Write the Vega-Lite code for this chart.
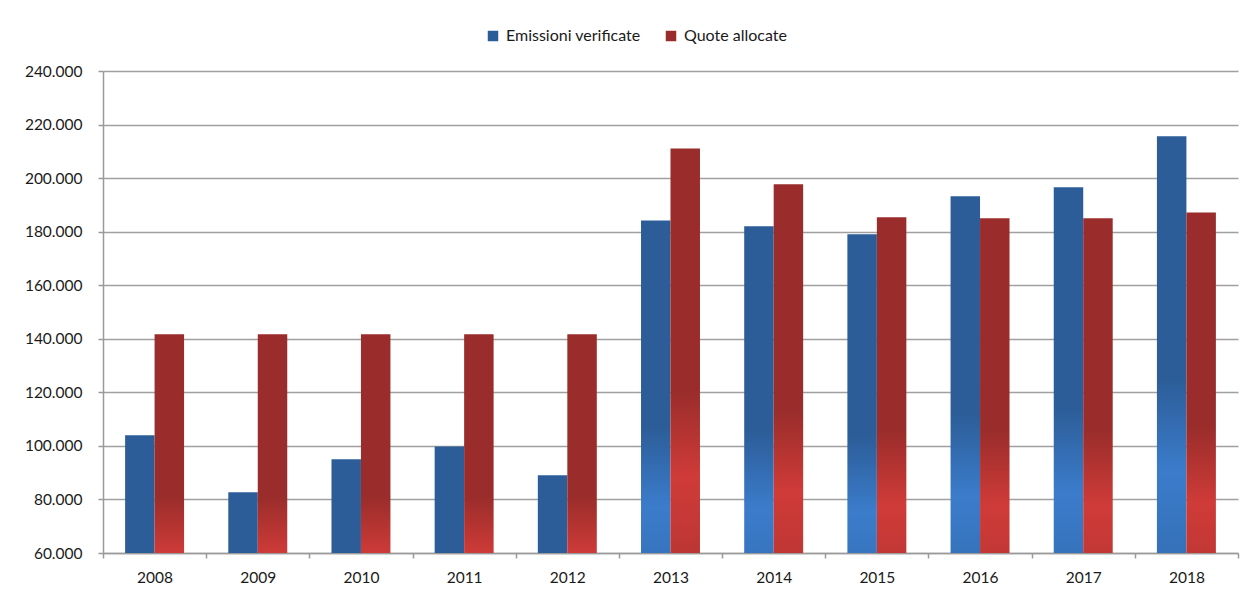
{
  "$schema": "https://vega.github.io/schema/vega-lite/v6.json",
  "autosize": {"type": "none"},
  "padding": {"left": 103, "top": 71, "right": 10, "bottom": 39},
  "width": 1135,
  "height": 482,
  "background": "white",
  "config": {
    "locale": {"number": {"decimal": ",", "thousands": ".", "grouping": [3], "currency": ["€", ""]}},
    "font": "Lato",
    "view": {"stroke": null},
    "axis": {
      "title": null,
      "labelFont": "Lato",
      "labelFontSize": 15.5,
      "labelColor": "#1a1a1a",
      "domainColor": "#9a9a9a",
      "domainWidth": 1.5,
      "tickColor": "#9a9a9a",
      "tickWidth": 1.5,
      "gridColor": "#a0a0a0",
      "gridWidth": 1.5
    }
  },
  "data": {
    "values": [
      {"anno": "2008", "serie": "Emissioni verificate", "valore": 104000},
      {"anno": "2008", "serie": "Quote allocate", "valore": 141700},
      {"anno": "2009", "serie": "Emissioni verificate", "valore": 82700},
      {"anno": "2009", "serie": "Quote allocate", "valore": 141700},
      {"anno": "2010", "serie": "Emissioni verificate", "valore": 95000},
      {"anno": "2010", "serie": "Quote allocate", "valore": 141700},
      {"anno": "2011", "serie": "Emissioni verificate", "valore": 99800},
      {"anno": "2011", "serie": "Quote allocate", "valore": 141700},
      {"anno": "2012", "serie": "Emissioni verificate", "valore": 89000},
      {"anno": "2012", "serie": "Quote allocate", "valore": 141700},
      {"anno": "2013", "serie": "Emissioni verificate", "valore": 184200},
      {"anno": "2013", "serie": "Quote allocate", "valore": 211100},
      {"anno": "2014", "serie": "Emissioni verificate", "valore": 182000},
      {"anno": "2014", "serie": "Quote allocate", "valore": 197700},
      {"anno": "2015", "serie": "Emissioni verificate", "valore": 179000},
      {"anno": "2015", "serie": "Quote allocate", "valore": 185400},
      {"anno": "2016", "serie": "Emissioni verificate", "valore": 193200},
      {"anno": "2016", "serie": "Quote allocate", "valore": 185000},
      {"anno": "2017", "serie": "Emissioni verificate", "valore": 196600},
      {"anno": "2017", "serie": "Quote allocate", "valore": 185000},
      {"anno": "2018", "serie": "Emissioni verificate", "valore": 215600},
      {"anno": "2018", "serie": "Quote allocate", "valore": 187200}
    ]
  },
  "mark": {"type": "bar", "clip": true, "strokeWidth": 0},
  "encoding": {
    "x": {
      "field": "anno",
      "type": "nominal",
      "scale": {"paddingInner": 0, "paddingOuter": 0},
      "axis": {
        "labelAngle": 0,
        "tickBand": "extent",
        "tickSize": 5,
        "labelPadding": 12,
        "grid": false
      }
    },
    "xOffset": {
      "field": "serie",
      "type": "nominal",
      "sort": ["Emissioni verificate", "Quote allocate"],
      "scale": {"paddingInner": 0, "paddingOuter": 0.75}
    },
    "y": {
      "field": "valore",
      "type": "quantitative",
      "scale": {"domain": [60000, 240000], "zero": false, "nice": false},
      "axis": {
        "values": [60000, 80000, 100000, 120000, 140000, 160000, 180000, 200000, 220000, 240000],
        "format": ",d",
        "grid": true,
        "tickSize": 5,
        "labelPadding": 16
      }
    },
    "y2": {"datum": 0},
    "fill": {
      "field": "serie",
      "type": "nominal",
      "scale": {
        "domain": ["Emissioni verificate", "Quote allocate"],
        "range": ["#2C5D98", "#9A2D2B"]
      },
      "legend": {
        "orient": "none",
        "legendX": 382,
        "legendY": -43,
        "direction": "horizontal",
        "title": null,
        "padding": 0,
        "symbolType": "square",
        "symbolSize": 110,
        "symbolStrokeWidth": 0,
        "symbolOpacity": 1,
        "labelFont": "Lato",
        "labelFontSize": 16,
        "labelColor": "#1a1a1a",
        "labelOffset": 5,
        "columnPadding": 22
      },
      "condition": [
        {
          "test": "datum.serie === 'Emissioni verificate'",
          "value": {
            "gradient": "linear", "x1": 0, "y1": 0, "x2": 0, "y2": 1,
            "stops": [
              {"offset": 0, "color": "#2C5D98"},
              {"offset": 0.42, "color": "#2C5D98"},
              {"offset": 0.58, "color": "#3B7CCB"},
              {"offset": 1, "color": "#2A5A95"}
            ]
          }
        },
        {
          "test": "datum.serie === 'Quote allocate'",
          "value": {
            "gradient": "linear", "x1": 0, "y1": 0, "x2": 0, "y2": 1,
            "stops": [
              {"offset": 0, "color": "#9A2D2B"},
              {"offset": 0.43, "color": "#9A2D2B"},
              {"offset": 0.58, "color": "#CF3B38"},
              {"offset": 1, "color": "#972C2A"}
            ]
          }
        }
      ]
    }
  }
}
